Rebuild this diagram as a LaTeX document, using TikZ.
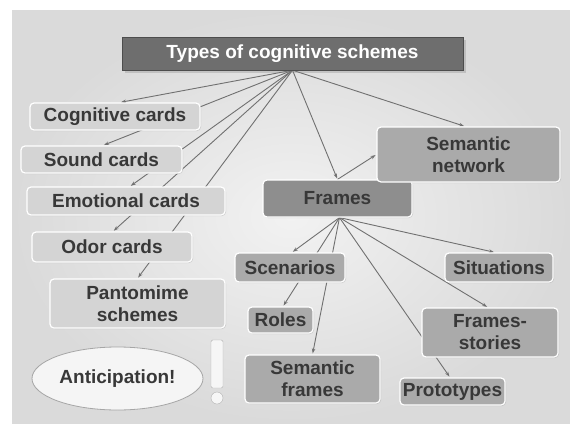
\documentclass[tikz,border=0pt]{standalone}
\usepackage{fontspec}
\setmainfont{Liberation Sans}
\usepackage{tikz}
\usetikzlibrary{arrows.meta,positioning,shapes.geometric,shadows}
\definecolor{slidegray}{RGB}{242,242,242}
\definecolor{slideedge}{RGB}{218,218,218}
\definecolor{titlegray}{RGB}{110,110,110}
\definecolor{framegray}{RGB}{142,142,142}
\definecolor{midgray}{RGB}{170,170,170}
\definecolor{cardgray}{RGB}{212,212,212}
\definecolor{inkgray}{RGB}{56,56,56}
\definecolor{linegray}{RGB}{112,112,112}
\pgfdeclarelayer{bg}
\pgfdeclarelayer{links}
\pgfsetlayers{bg,links,main}

\begin{document}
\begin{tikzpicture}[
    x=1pt, y=-1pt,
    every node/.style={font=\fontsize{19}{22}\selectfont\bfseries, text=inkgray, align=center, inner sep=2pt},
    box/.style={draw=white, line width=1.2pt, rounded corners=4pt,
                drop shadow={opacity=0.25, shadow xshift=1pt, shadow yshift=-1pt}},
    card/.style={box, fill=cardgray},
    sub/.style={box, fill=midgray},
    link/.style={draw=linegray, line width=0.9pt, -{Stealth[length=5pt,width=3.5pt]}, shorten >=1pt}
]
\useasboundingbox (0,0) rectangle (570,423);
\begin{pgfonlayer}{bg}
  \fill[white] (0,0) rectangle (570,423);
  \shade[inner color=slidegray, outer color=slideedge] (12,10) rectangle (570,423);
\end{pgfonlayer}

% top level
\node[draw=titlegray!70!black, fill=titlegray, text=white, minimum width=341pt, minimum height=33pt,
      drop shadow={opacity=0.3}] (title) at (292.5,53.5) {Types of cognitive schemes};

% left column
\node[card, minimum width=170pt, minimum height=27pt] (cog) at (115,116.5) {Cognitive cards};
\node[card, minimum width=161pt, minimum height=27pt] (sound) at (101.5,159.5) {Sound cards};
\node[card, minimum width=198pt, minimum height=28pt] (emo) at (126,201) {Emotional cards};
\node[card, minimum width=160pt, minimum height=30pt] (odor) at (112,247) {Odor cards};
\node[card, minimum width=175pt, minimum height=49pt] (panto) at (137.5,303.5) {Pantomime\\schemes};
\node[ellipse, draw=gray!70, fill=slidegray!80!white, line width=0.8pt, minimum width=171pt,
      minimum height=63pt] (antic) at (117.5,378.5) {Anticipation!};
\node[draw=gray!60, fill=slidegray!70!white, rounded corners=1.5pt, minimum width=12pt,
      minimum height=48pt, inner sep=0pt] (exbar) at (217,364) {};
\node[circle, draw=gray!60, fill=slidegray!70!white, minimum size=12pt, inner sep=0pt] (exdot) at (217,398) {};

% frames and the right side
\node[box, fill=framegray, minimum width=149pt, minimum height=37pt] (frames) at (337.5,198.5) {Frames};
\node[sub, minimum width=183pt, minimum height=55pt] (semnet) at (468.5,154.5) {Semantic\\network};
\node[sub, minimum width=110pt, minimum height=29pt] (scen) at (290,267.5) {Scenarios};
\node[sub, minimum width=65pt, minimum height=26pt] (roles) at (280.5,320) {Roles};
\node[sub, minimum width=135pt, minimum height=48pt] (semfr) at (312.5,379) {Semantic\\frames};
\node[sub, minimum width=105pt, minimum height=27pt] (proto) at (452.5,391.5) {Prototypes};
\node[sub, minimum width=108pt, minimum height=29pt] (situ) at (499,267.5) {Situations};
\node[sub, minimum width=136pt, minimum height=49pt] (fstor) at (490,332.5) {Frames-\\stories};

\begin{pgfonlayer}{links}
  \draw[link] (title.south) -- ([xshift=5pt]cog.north);
  \draw[link] (title.south) -- ([xshift=1.5pt]sound.north);
  \draw[link] (title.south) -- ([xshift=4pt]emo.north);
  \draw[link] (title.south) -- ([xshift=1pt]odor.north);
  \draw[link] (title.south) -- (panto.north);
  \draw[link] (title.south) -- (frames.north);
  \draw[link] (title.south) -- ([xshift=-3.5pt]semnet.north);
  \draw[link] (frames.north) -- (semnet.west);
  \draw[link] ([xshift=2pt]frames.south) -- ([xshift=2pt]scen.north);
  \draw[link] ([xshift=2pt]frames.south) -- ([xshift=2.5pt]roles.north);
  \draw[link] ([xshift=2pt]frames.south) -- (semfr.north);
  \draw[link] ([xshift=2pt]frames.south) -- ([xshift=-2.5pt]proto.north);
  \draw[link] ([xshift=2pt]frames.south) -- ([xshift=-2pt]fstor.north);
  \draw[link] ([xshift=2pt]frames.south) -- ([xshift=-4pt]situ.north);
\end{pgfonlayer}
\end{tikzpicture}
\end{document}
